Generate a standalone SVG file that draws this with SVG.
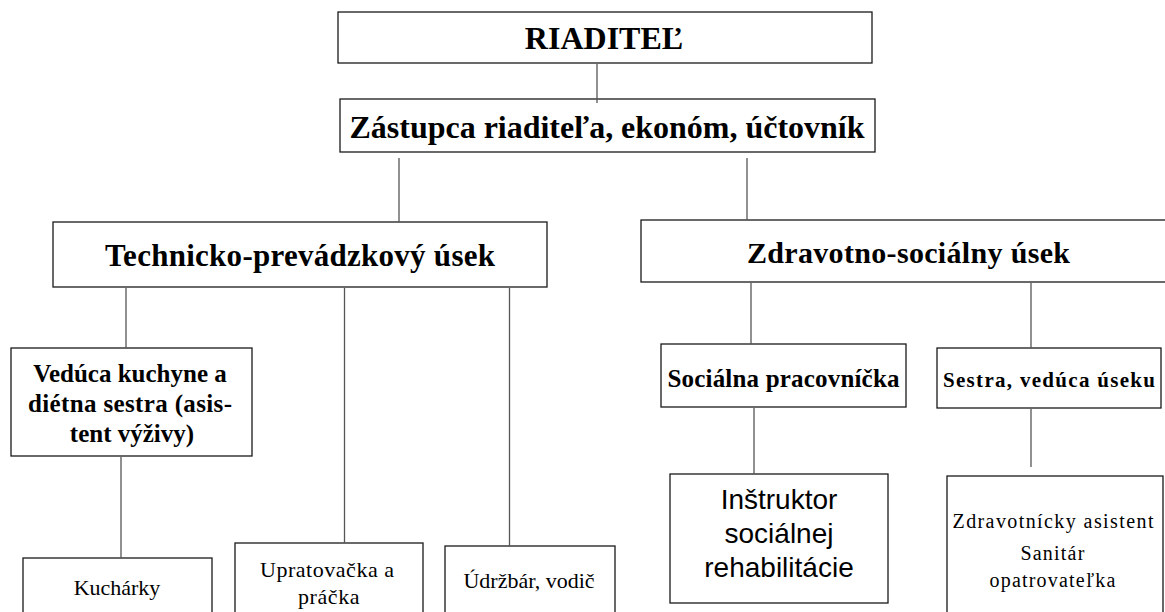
<svg xmlns="http://www.w3.org/2000/svg" width="1165" height="612" viewBox="0 0 1165 612">
<style>
.box{fill:#fff;stroke:#1a1a1a;stroke-width:1.3}
.con{stroke:#555;stroke-width:1.3;fill:none}
.tb{font-family:"Liberation Serif","Times New Roman",serif;font-weight:bold;fill:#000;text-anchor:middle}
.tr{font-family:"Liberation Serif","Times New Roman",serif;fill:#000;text-anchor:middle}
.ts{font-family:"Liberation Sans",Arial,sans-serif;fill:#000;text-anchor:middle}
</style>
<rect width="1165" height="612" fill="#fff"/>
<g id="riaditel">
<rect class="box" x="338" y="12" width="534" height="51"/>
<text class="tb" x="604" y="49" font-size="32">RIADITEĽ</text>
</g>
<g id="zastupca">
<rect class="box" x="340" y="99" width="535" height="53"/>
<text class="tb" x="607" y="138" font-size="32" textLength="515">Zástupca riaditeľa, ekonóm, účtovník</text>
</g>
<g id="technicko">
<rect class="box" x="53" y="222" width="494" height="65"/>
<text class="tb" x="300" y="266" font-size="31" textLength="390">Technicko-prevádzkový úsek</text>
</g>
<g id="zdravotno">
<rect class="box" x="641" y="220" width="600" height="62"/>
<text class="tb" x="908.5" y="263" font-size="30" textLength="323">Zdravotno-sociálny úsek</text>
</g>
<g id="veduca">
<rect class="box" x="11" y="348" width="241" height="108"/>
<text class="tb" x="130" y="382" font-size="25">Vedúca kuchyne a</text>
<text class="tb" x="130" y="412" font-size="25" textLength="204">diétna sestra (asis-</text>
<text class="tb" x="132" y="442" font-size="25">tent výživy)</text>
</g>
<g id="kucharky">
<rect class="box" x="23" y="558" width="189" height="70"/>
<text class="tr" x="117" y="595" font-size="22">Kuchárky</text>
</g>
<g id="upratovacka">
<rect class="box" x="235" y="543" width="188" height="80"/>
<text class="tr" x="327" y="577" font-size="22" textLength="134">Upratovačka a</text>
<text class="tr" x="329" y="604" font-size="22" letter-spacing="0.6">práčka</text>
</g>
<g id="udrzbar">
<rect class="box" x="445" y="546" width="170" height="80"/>
<text class="tr" x="529" y="588" font-size="22">Údržbár, vodič</text>
</g>
<g id="socialna">
<rect class="box" x="661" y="344" width="245" height="63"/>
<text class="tb" x="783.5" y="387" font-size="25" textLength="232">Sociálna pracovníčka</text>
</g>
<g id="instruktor">
<rect class="box" x="670" y="474" width="218" height="129"/>
<text class="ts" x="779" y="509" font-size="28">Inštruktor</text>
<text class="ts" x="779" y="543" font-size="28">sociálnej</text>
<text class="ts" x="779" y="577" font-size="28">rehabilitácie</text>
</g>
<g id="sestra">
<rect class="box" x="937" y="348" width="224" height="60"/>
<text class="tb" x="1049" y="387" font-size="21" textLength="212">Sestra, vedúca úseku</text>
</g>
<g id="zdravotnicky">
<rect class="box" x="947" y="476" width="216" height="150"/>
<text class="tr" x="1053" y="528" font-size="20" textLength="201">Zdravotnícky asistent</text>
<text class="tr" x="1053" y="560" font-size="20" letter-spacing="1.2">Sanitár</text>
<text class="tr" x="1053" y="587" font-size="20" letter-spacing="1.2">opatrovateľka</text>
</g>
<g id="connectors">
<line class="con" x1="597" y1="64" x2="597" y2="103"/>
<line class="con" x1="399" y1="158" x2="399" y2="222"/>
<line class="con" x1="747" y1="158" x2="747" y2="220"/>
<line class="con" x1="126" y1="288" x2="126" y2="348"/>
<line class="con" x1="344.5" y1="288" x2="344.5" y2="543"/>
<line class="con" x1="509.5" y1="288" x2="509.5" y2="546"/>
<line class="con" x1="121" y1="457" x2="121" y2="558"/>
<line class="con" x1="751" y1="283" x2="751" y2="344"/>
<line class="con" x1="1031" y1="283" x2="1031" y2="348"/>
<line class="con" x1="754" y1="408" x2="754" y2="474"/>
<line class="con" x1="1031" y1="409" x2="1031" y2="467"/>
</g>
</svg>
